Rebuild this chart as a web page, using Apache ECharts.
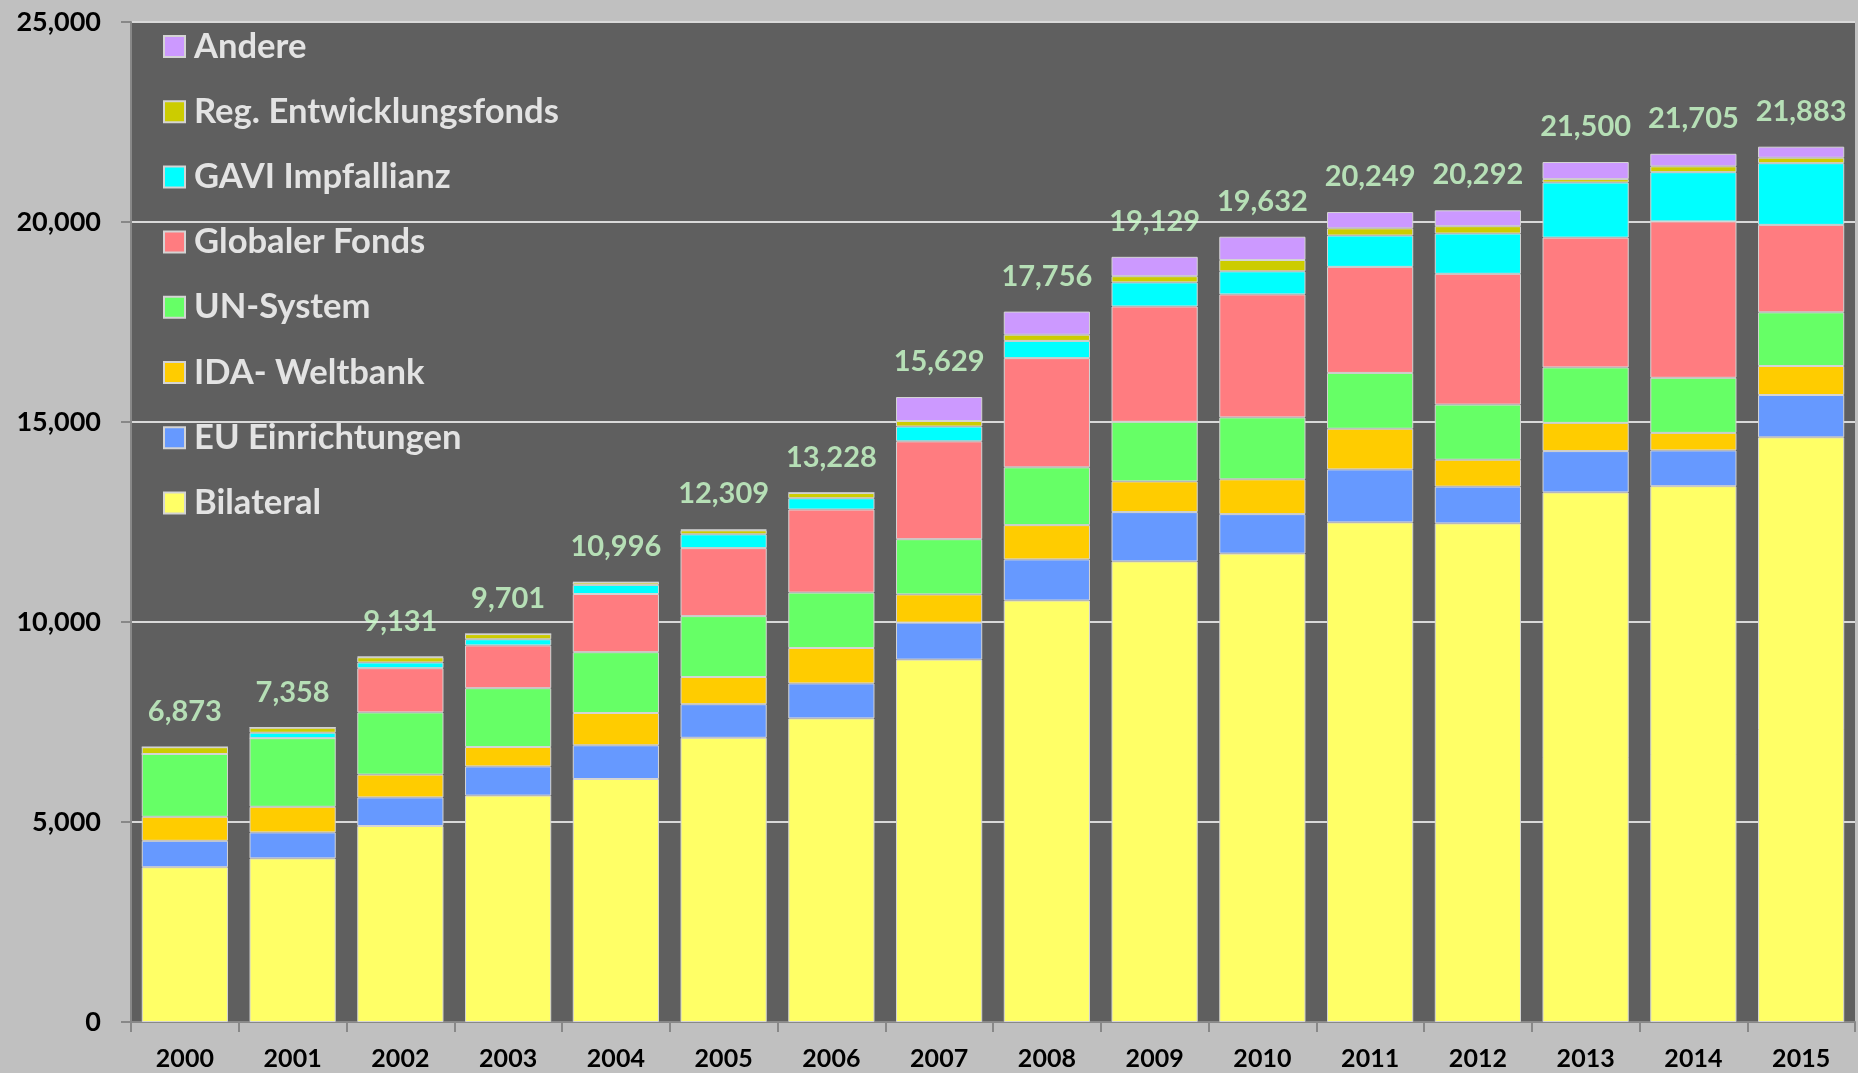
<!DOCTYPE html>
<html>
<head>
<meta charset="utf-8">
<script src="https://cdn.jsdelivr.net/npm/echarts@6/dist/echarts.min.js"></script>
<style>
  html, body { margin: 0; padding: 0; background: #c0c0c0; }
  #chart { width: 1858px; height: 1073px; }
</style>
</head>
<body>
<div id="chart"></div>
<script>
  // Jahre
  let years = ['2000', '2001', '2002', '2003', '2004', '2005', '2006', '2007',
               '2008', '2009', '2010', '2011', '2012', '2013', '2014', '2015'];

  // Werte je Kanal (von unten nach oben gestapelt)
  let bilateral  = [3870, 4090, 4900, 5660, 6075, 7105, 7590, 9060, 10537, 11515, 11710, 12490, 12465, 13240, 13395, 14617];
  let euEinr     = [660, 650, 715, 730, 843, 840, 875, 925, 1028, 1233, 987, 1325, 920, 1033, 895, 1058];
  let idaWB      = [600, 640, 570, 485, 807, 680, 885, 705, 857, 767, 870, 1017, 672, 705, 438, 725];
  let unSystem   = [1570, 1715, 1555, 1470, 1520, 1522, 1385, 1380, 1445, 1490, 1548, 1395, 1378, 1387, 1377, 1342];
  let globFonds  = [0, 0, 1105, 1070, 1455, 1700, 2077, 2447, 2730, 2883, 3075, 2651, 3270, 3245, 3910, 2186];
  let gavi       = [0, 137, 143, 153, 228, 345, 282, 370, 430, 602, 577, 784, 1007, 1377, 1230, 1542];
  let regFonds   = [170, 126, 130, 130, 60, 100, 130, 138, 155, 155, 283, 180, 183, 86, 147, 137];
  let andere     = [0, 0, 13, 0, 8, 17, 6, 600, 578, 484, 582, 407, 397, 427, 313, 276];

  // Summen (Beschriftung über den Säulen)
  let totals = [6873, 7358, 9131, 9701, 10996, 12309, 13228, 15629, 17756, 19129, 19632, 20249, 20292, 21500, 21705, 21883];

  let yTicks = [0, 5000, 10000, 15000, 20000, 25000];

  let names = ['Bilateral', 'EU Einrichtungen', 'IDA- Weltbank', 'UN-System',
               'Globaler Fonds', 'GAVI Impfallianz', 'Reg. Entwicklungsfonds', 'Andere'];
  let colors = ['#ffff66', '#6699ff', '#ffcc00', '#66ff66', '#ff7c80', '#00ffff', '#cccc00', '#cc99ff'];
  let values = [bilateral, euEinr, idaWB, unSystem, globFonds, gavi, regFonds, andere];

  let font = 'Lato, "Open Sans", sans-serif';

  let chart = echarts.init(document.getElementById('chart'));

  let series = names.map(function (name, i) {
    return {
      name: name,
      type: 'bar',
      stack: 'gesamt',
      barWidth: '80%',
      itemStyle: { color: colors[i], borderColor: '#d4d4d4', borderWidth: 1 },
      data: values[i]
    };
  });

  // unsichtbare Punkte für die Summenbeschriftung
  series.push({
    name: 'Summe',
    type: 'scatter',
    symbolSize: 0,
    data: totals,
    z: 10,
    label: {
      show: true,
      position: 'top',
      distance: 21,
      color: '#ccffcc',
      fontFamily: font,
      fontWeight: 'bold',
      fontSize: 29,
      formatter: function (p) {
        return p.value.toLocaleString('en-US');
      }
    }
  });

  let option = {
    backgroundColor: '#c0c0c0',
    animation: false,
    grid: {
      left: 131,
      right: 3,
      top: 22,
      bottom: 51,
      show: true,
      backgroundColor: '#5f5f5f',
      borderWidth: 0
    },
    legend: {
      orient: 'vertical',
      left: 158,
      top: 24,
      icon: 'rect',
      itemWidth: 21,
      itemHeight: 21,
      itemGap: 30.2,
      data: names.slice().reverse(),
      textStyle: {
        color: '#e3e3e3',
        fontFamily: font,
        fontWeight: 'bold',
        fontSize: 34.6,
        padding: [0, 0, 0, 4]
      }
    },
    xAxis: {
      type: 'category',
      data: years,
      axisLine: { lineStyle: { color: '#888888', width: 2 } },
      axisTick: { show: true, length: 10, lineStyle: { color: '#888888', width: 2 } },
      axisLabel: {
        color: '#000',
        fontFamily: font,
        fontWeight: 'bold',
        fontSize: 25,
        margin: 24
      }
    },
    yAxis: {
      type: 'value',
      min: 0,
      max: 25000,
      interval: 5000,
      axisLine: { show: true, lineStyle: { color: '#888888', width: 2 } },
      axisTick: { show: true, length: 10, lineStyle: { color: '#888888', width: 2 } },
      splitLine: { lineStyle: { color: '#d9d9d9', width: 2 } },
      axisLabel: {
        color: '#000',
        fontFamily: font,
        fontWeight: 'bold',
        fontSize: 27,
        margin: 30,
        formatter: function (v) {
          return yTicks.indexOf(v) >= 0 ? v.toLocaleString('en-US') : '';
        }
      }
    },
    series: series
  };

  chart.setOption(option);
</script>
</body>
</html>
